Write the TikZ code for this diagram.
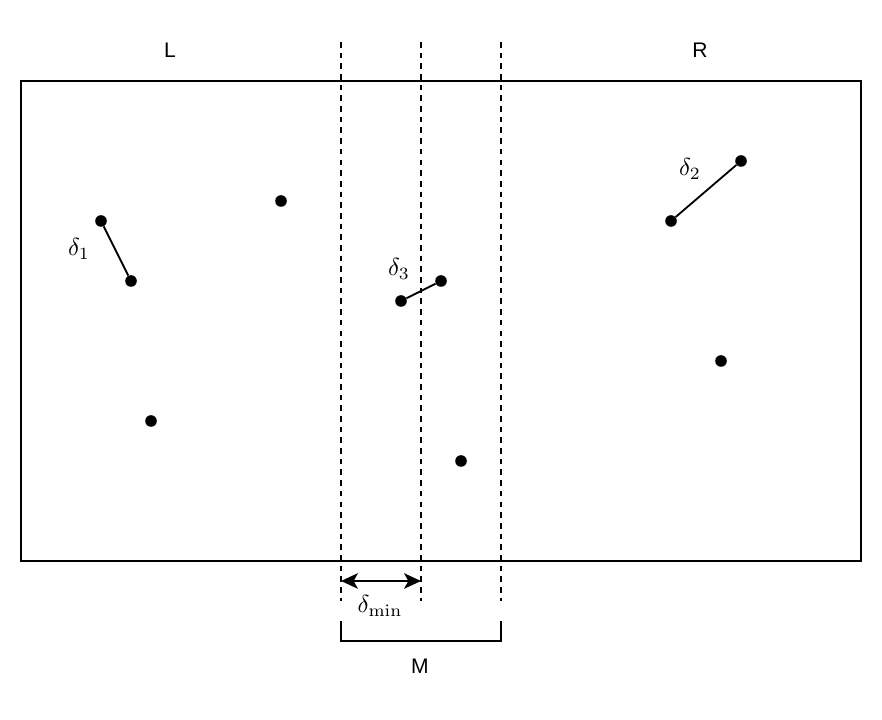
\documentclass[tikz,border=0pt]{standalone}
\usepackage[no-math]{fontspec}
\setmainfont{Liberation Sans}
\usetikzlibrary{positioning,arrows.meta}

\begin{document}
\begin{tikzpicture}[
    x=0.025cm, y=-0.025cm,
    pt/.style={circle, fill=black, inner sep=0pt, minimum size=0.29cm},
    seg/.style={line width=1.3pt},
    divider/.style={line width=1.3pt, dash pattern=on 4pt off 3.6pt},
    lbl/.style={font=\fontsize{15}{18}\selectfont},
    dlbl/.style={scale=1.75, transform shape}
]
\useasboundingbox (0,0) rectangle (882,720);

% the plane
\draw[line width=1.4pt] (21,81) rectangle (861,561);

% halves
\node[lbl] (L) at (170,50) {L};
\node[lbl] (R) at (700,50) {R};

% dividing lines
\coordinate (a1) at (341,42);  \coordinate (a2) at (341,601);
\coordinate (b1) at (421,42);  \coordinate (b2) at (421,601);
\coordinate (c1) at (501,42);  \coordinate (c2) at (501,601);
\draw[divider] (a1) -- (a2);
\draw[divider] (b1) -- (b2);
\draw[divider] (c1) -- (c2);

% points in L
\node[pt] (p1) at (101,221) {};
\node[pt] (p2) at (131,281) {};
\node[pt] (p3) at (281,201) {};
\node[pt] (p4) at (151,421) {};
\draw[seg] (p1) -- (p2);
\node[dlbl] (d1) at (79,249) {$\delta_1$};

% points in R
\node[pt] (q1) at (671,221) {};
\node[pt] (q2) at (741,161) {};
\node[pt] (q3) at (721,361) {};
\draw[seg] (q1) -- (q2);
\node[dlbl] (d2) at (690,169) {$\delta_2$};

% points across the middle
\node[pt] (m1) at (401,301) {};
\node[pt] (m2) at (441,281) {};
\node[pt] (m3) at (461,461) {};
\draw[seg] (m1) -- (m2);
\node[dlbl] (d3) at (399,269) {$\delta_3$};

% strip width
\coordinate (w1) at (341,581);
\coordinate (w2) at (421,581);
\draw[line width=1.4pt, {Stealth[length=12pt,width=11pt,inset=3pt]}-{Stealth[length=12pt,width=11pt,inset=3pt]}] (w1) -- (w2);
\node[dlbl] (dmin) at (380,606) {$\delta_{\min}$};

% strip M
\coordinate (s1) at (341,621);
\coordinate (s2) at (501,621);
\draw[line width=1.4pt] (s1) -- ++(0,20) -| (s2);
\node[lbl] (M) at (420,666) {M};

\end{tikzpicture}
\end{document}
